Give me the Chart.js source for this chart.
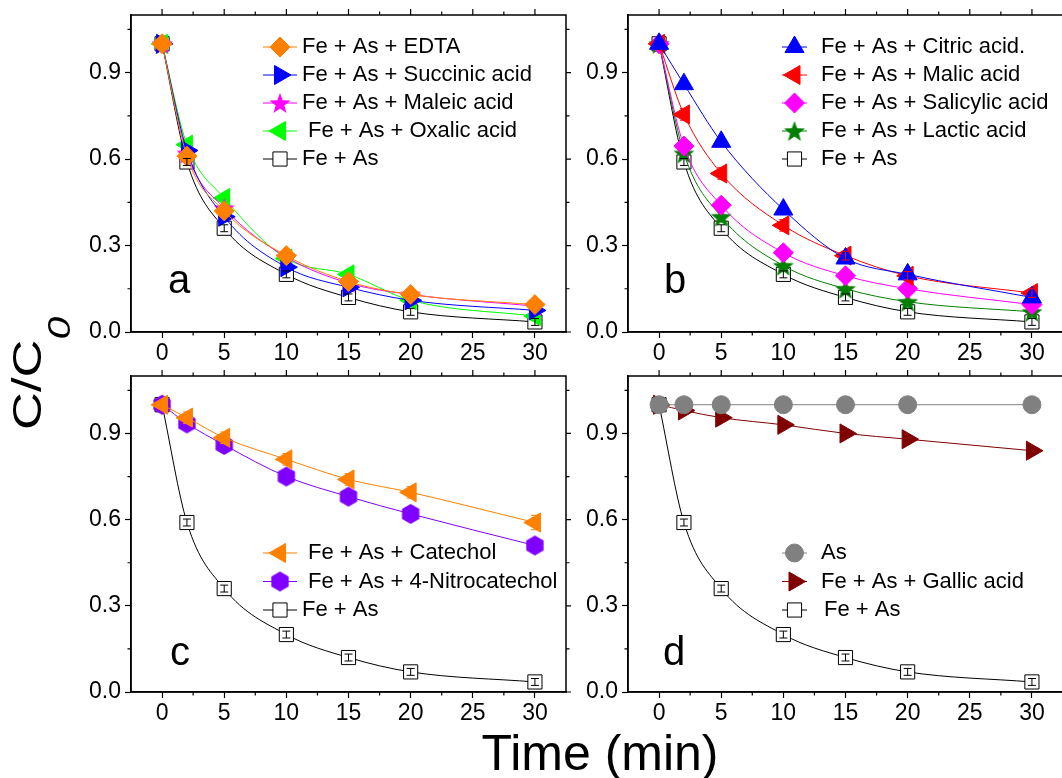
<!DOCTYPE html>
<html>
<head>
<meta charset="utf-8">
<script src="https://cdn.jsdelivr.net/npm/chart.js@4.4.1/dist/chart.umd.min.js"></script>
<style>
body { margin: 0; background: #fff; }
#wrap { position: relative; width: 1062px; height: 778px; overflow: hidden; font-family: "Liberation Sans", Arial, sans-serif; }
.panel { position: absolute; }
#ylab { position: absolute; left: 7px; top: 430px; font-size: 41px; line-height: 41px; white-space: nowrap; transform-origin: 0 0; transform: rotate(-90deg) scale(1.28, 1); }
#ylab span { font-size: 32px; font-style: italic; position: relative; top: 29px; }
#xlab { position: absolute; left: 400px; width: 400px; top: 728px; font-size: 50px; line-height: 50px; text-align: center; }
</style>
</head>
<body>
<div id="wrap">
  <div class="panel" style="left:70px;top:0;width:501px;height:375px"><canvas id="ca"></canvas></div>
  <div class="panel" style="left:567px;top:0;width:501px;height:375px"><canvas id="cb"></canvas></div>
  <div class="panel" style="left:70px;top:361px;width:501px;height:374px"><canvas id="cc"></canvas></div>
  <div class="panel" style="left:567px;top:361px;width:501px;height:374px"><canvas id="cd"></canvas></div>
  <div id="ylab">C/C<span>0</span></div>
  <div id="xlab">Time (min)</div>
</div>
<script>
var times = [0, 2, 5, 10, 15, 20, 30];
var xTicks = [0, 5, 10, 15, 20, 25, 30];
var xMinor = [2.5, 7.5, 12.5, 17.5, 22.5, 27.5];
var yTicks = [0, 0.3, 0.6, 0.9];
var yMinor = [0.15, 0.45, 0.75, 1.05];

// panel a
var edta = [1.0, 0.61, 0.42, 0.265, 0.175, 0.13, 0.095];
var succinic = [1.0, 0.63, 0.40, 0.225, 0.155, 0.11, 0.075];
var maleic = [1.0, 0.62, 0.43, 0.26, 0.17, 0.13, 0.09];
var oxalic = [1.0, 0.65, 0.465, 0.255, 0.20, 0.11, 0.055];
// panel b
var citric = [1.0, 0.86, 0.66, 0.425, 0.255, 0.20, 0.12];
var malic = [1.0, 0.755, 0.55, 0.37, 0.265, 0.195, 0.135];
var salicylic = [1.0, 0.645, 0.44, 0.275, 0.195, 0.15, 0.095];
var lactic = [1.0, 0.62, 0.40, 0.23, 0.15, 0.105, 0.07];
// panel c
var catechol = [1.0, 0.955, 0.885, 0.81, 0.74, 0.695, 0.59];
var nitrocatechol = [1.0, 0.935, 0.86, 0.75, 0.68, 0.62, 0.51];
// panel d
var asOnly = [1.0, 1.0, 1.0, 1.0, 1.0, 1.0, 1.0];
var gallic = [1.0, 0.98, 0.955, 0.93, 0.90, 0.88, 0.84];
// control, all panels
var feAs = [1.0, 0.59, 0.36, 0.20, 0.12, 0.07, 0.035];
var feAsErr = [0, 0.012, 0.012, 0.012, 0.012, 0.012, 0.012];
var catecholErr = [0, 0.02, 0.02, 0.02, 0.02, 0.02, 0.025];
var malicErr = [0, 0.02, 0.02, 0.02, 0.015, 0.015, 0.015];

var FONT = '"Liberation Sans", Arial, sans-serif';

function starCanvas(color, r) {
    var s = Math.ceil(r * 2 + 2);
    var c = document.createElement("canvas");
    c.width = s; c.height = s;
    var g = c.getContext("2d");
    g.translate(s / 2, s / 2 + 1);
    g.beginPath();
    for (var k = 0; k < 10; k++) {
        var ang = -Math.PI / 2 + k * Math.PI / 5;
        var rr = k % 2 ? r * 0.42 : r;
        g.lineTo(Math.cos(ang) * rr, Math.sin(ang) * rr);
    }
    g.closePath();
    g.fillStyle = color;
    g.fill();
    return c;
}

function hexCanvas(color, r) {
    var s = Math.ceil(r * 2 + 2);
    var c = document.createElement("canvas");
    c.width = s; c.height = s;
    var g = c.getContext("2d");
    g.translate(s / 2, s / 2);
    g.beginPath();
    for (var k = 0; k < 6; k++) {
        var ang = -Math.PI / 2 + k * Math.PI / 3;
        g.lineTo(Math.cos(ang) * r, Math.sin(ang) * r);
    }
    g.closePath();
    g.fillStyle = color;
    g.fill();
    return c;
}

var M = {
    diamond: { style: "rectRot", r: 10 },
    right: { style: "triangle", r: 11, rot: 90 },
    left: { style: "triangle", r: 11, rot: -90 },
    up: { style: "triangle", r: 11 },
    square: { style: "rect", r: 10, open: true },
    circle: { style: "circle", r: 9 }
};

function series(label, values, color, marker, errs) {
    return {
        label: label,
        data: times.map(function (t, i) { return { x: t, y: values[i] }; }),
        borderColor: color,
        borderWidth: 1,
        backgroundColor: color,
        pointBackgroundColor: marker.open ? "#fff" : color,
        pointBorderColor: color,
        pointBorderWidth: 1,
        pointStyle: marker.style,
        pointRadius: marker.r,
        pointHoverRadius: marker.r,
        pointRotation: marker.rot || 0,
        cubicInterpolationMode: "monotone",
        errors: errs || null
    };
}

function control() {
    return series("Fe + As", feAs, "#000", M.square, feAsErr);
}

// box round the plot, top/right ticks and the minor ticks
var frame = {
    id: "frame",
    afterDraw: function (chart) {
        var ctx = chart.ctx, a = chart.chartArea;
        var xs = chart.scales.x, ys = chart.scales.y;
        ctx.save();
        ctx.strokeStyle = "#000";
        ctx.lineWidth = 1.5;
        ctx.strokeRect(a.left, a.top, a.right - a.left, a.bottom - a.top);
        ctx.lineWidth = 1.2;
        ctx.beginPath();
        xTicks.forEach(function (v) {
            var px = xs.getPixelForValue(v);
            ctx.moveTo(px, a.top); ctx.lineTo(px, a.top - 6);
        });
        xMinor.forEach(function (v) {
            var px = xs.getPixelForValue(v);
            ctx.moveTo(px, a.top); ctx.lineTo(px, a.top - 3.5);
            ctx.moveTo(px, a.bottom); ctx.lineTo(px, a.bottom + 3.5);
        });
        yTicks.forEach(function (v) {
            var py = ys.getPixelForValue(v);
            ctx.moveTo(a.right, py); ctx.lineTo(a.right + 6, py);
        });
        yMinor.forEach(function (v) {
            var py = ys.getPixelForValue(v);
            ctx.moveTo(a.left, py); ctx.lineTo(a.left - 3.5, py);
            ctx.moveTo(a.right, py); ctx.lineTo(a.right + 3.5, py);
        });
        ctx.stroke();
        ctx.restore();
    }
};

var errorBars = {
    id: "errorBars",
    afterDatasetsDraw: function (chart) {
        var ctx = chart.ctx, xs = chart.scales.x, ys = chart.scales.y;
        chart.data.datasets.forEach(function (ds) {
            if (!ds.errors) return;
            ctx.save();
            ctx.strokeStyle = ds.borderColor;
            ctx.lineWidth = 1;
            ctx.beginPath();
            ds.data.forEach(function (p, i) {
                var e = ds.errors[i];
                if (!e) return;
                var px = xs.getPixelForValue(p.x);
                var top = ys.getPixelForValue(p.y + e), bot = ys.getPixelForValue(p.y - e);
                ctx.moveTo(px, top); ctx.lineTo(px, bot);
                ctx.moveTo(px - 4, top); ctx.lineTo(px + 4, top);
                ctx.moveTo(px - 4, bot); ctx.lineTo(px + 4, bot);
            });
            ctx.stroke();
            ctx.restore();
        });
    }
};

// legend drawn inside the plot, plus the panel letter
var insideLegend = {
    id: "insideLegend",
    afterDraw: function (chart, args, opts) {
        var ctx = chart.ctx, a = chart.chartArea;
        var drawPoint = Chart.helpers && Chart.helpers.drawPoint;
        chart.data.datasets.forEach(function (ds, i) {
            var y = a.top + opts.y + i * opts.row;
            var x0 = a.left + opts.x;
            ctx.save();
            ctx.strokeStyle = ds.borderColor;
            ctx.lineWidth = 1;
            ctx.beginPath();
            ctx.moveTo(x0, y); ctx.lineTo(x0 + opts.w, y);
            ctx.stroke();
            ctx.fillStyle = ds.pointBackgroundColor;
            ctx.strokeStyle = ds.pointBorderColor;
            ctx.lineWidth = ds.pointBorderWidth;
            if (drawPoint) {
                drawPoint(ctx, { pointStyle: ds.pointStyle, radius: ds.pointRadius, rotation: ds.pointRotation, borderWidth: ds.pointBorderWidth }, x0 + opts.w / 2, y);
            }
            ctx.fillStyle = "#000";
            ctx.font = "22px " + FONT;
            ctx.textBaseline = "middle";
            var shift = (opts.shift && opts.shift[i]) || 0;
            ctx.fillText(ds.label, x0 + opts.w + opts.gap + shift, y);
            ctx.restore();
        });
        ctx.save();
        ctx.fillStyle = "#000";
        ctx.font = "40px " + FONT;
        ctx.textBaseline = "alphabetic";
        ctx.fillText(opts.letter, a.left + opts.lx, a.top + opts.ly);
        ctx.restore();
    }
};

Chart.register(frame, errorBars, insideLegend);

function makeChart(id, datasets, legend) {
    return new Chart(document.getElementById(id), {
        type: "line",
        data: { datasets: datasets },
        options: {
            responsive: true,
            maintainAspectRatio: false,
            animation: false,
            devicePixelRatio: 1,
            layout: { autoPadding: false, padding: { top: 15, right: 5, left: 0, bottom: 0 } },
            plugins: {
                legend: { display: false },
                tooltip: { enabled: false },
                insideLegend: legend
            },
            scales: {
                x: {
                    type: "linear",
                    min: -2.5,
                    max: 32.5,
                    afterBuildTicks: function (s) { s.ticks = xTicks.map(function (v) { return { value: v }; }); },
                    afterFit: function (s) { s.height = 43; s.paddingLeft = 0; s.paddingRight = 0; },
                    ticks: { font: { size: 23, family: FONT }, color: "#000", padding: 2, maxRotation: 0, autoSkip: false },
                    grid: { drawOnChartArea: false, tickLength: 6, tickWidth: 1.2, color: "#000" },
                    border: { color: "#000", width: 1.5 }
                },
                y: {
                    min: 0,
                    max: 1.1,
                    afterBuildTicks: function (s) { s.ticks = yTicks.map(function (v) { return { value: v }; }); },
                    afterFit: function (s) { s.width = 61; s.paddingTop = 0; s.paddingBottom = 0; },
                    ticks: { font: { size: 23, family: FONT }, color: "#000", padding: 4, autoSkip: false,
                        callback: function (v) { return Number(v).toFixed(1); } },
                    grid: { drawOnChartArea: false, tickLength: 6, tickWidth: 1.2, color: "#000" },
                    border: { color: "#000", width: 1.5 }
                }
            }
        }
    });
}

makeChart("ca", [
    series("Fe + As + EDTA", edta, "#FF8000", M.diamond),
    series("Fe + As + Succinic acid", succinic, "#0000FF", M.right),
    series("Fe + As + Maleic acid", maleic, "#FF00FF", { style: starCanvas("#FF00FF", 11), r: 10 }),
    series("Fe + As + Oxalic acid", oxalic, "#00FF00", M.left),
    control()
], { x: 132, y: 32, row: 28, w: 34, gap: 5, shift: [0, 0, 0, 6, 0], letter: "a", lx: 37, ly: 278 });

makeChart("cb", [
    series("Fe + As + Citric acid.", citric, "#0000FF", M.up),
    series("Fe + As + Malic acid", malic, "#FF0000", M.left, malicErr),
    series("Fe + As + Salicylic acid", salicylic, "#FF00FF", M.diamond),
    series("Fe + As + Lactic acid", lactic, "#008000", { style: starCanvas("#008000", 11), r: 10 }),
    control()
], { x: 154, y: 32, row: 28, w: 25, gap: 14, letter: "b", lx: 36, ly: 278 });

makeChart("cc", [
    series("Fe + As + Catechol", catechol, "#FF8000", M.left, catecholErr),
    series("Fe + As + 4-Nitrocatechol", nitrocatechol, "#8000FF", { style: hexCanvas("#8000FF", 10), r: 10 }),
    control()
], { x: 132, y: 177, row: 28.5, w: 34, gap: 5, shift: [6, 6, 0], letter: "c", lx: 39, ly: 289 });

makeChart("cd", [
    series("As", asOnly, "#808080", M.circle),
    series("Fe + As + Gallic acid", gallic, "#800000", M.right),
    control()
], { x: 154, y: 177, row: 28.5, w: 25, gap: 14, shift: [0, 0, 3], letter: "d", lx: 35, ly: 289 });
</script>
</body>
</html>
